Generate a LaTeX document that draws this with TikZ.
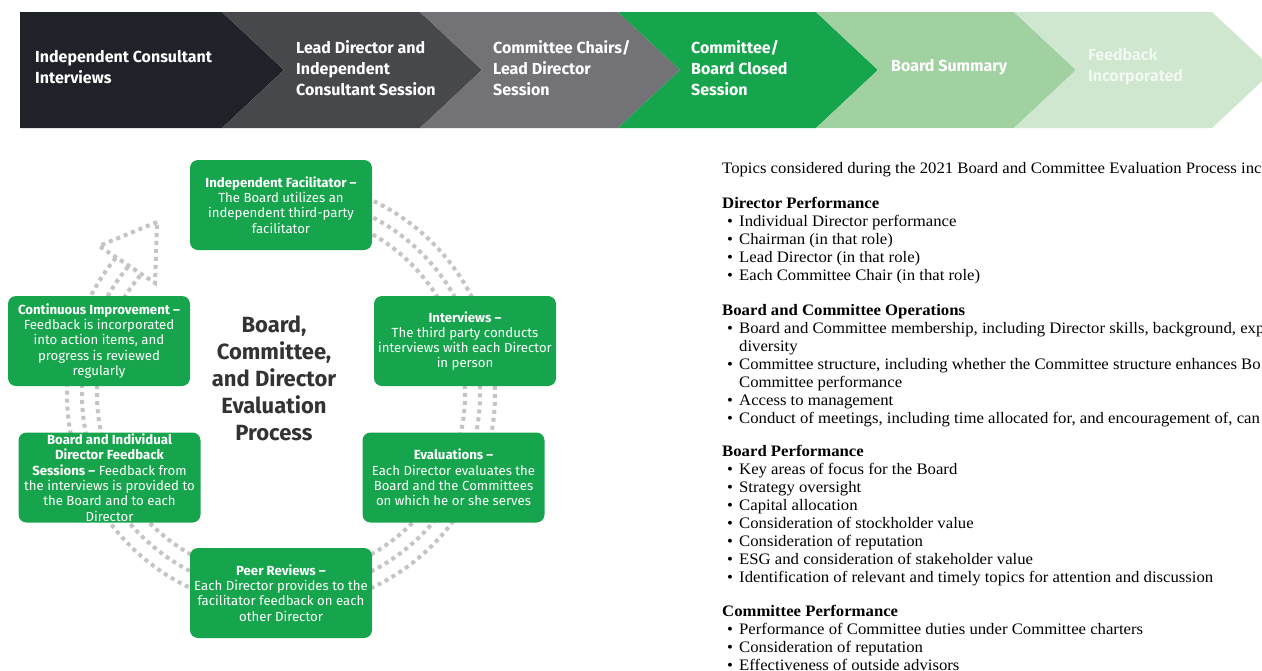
\documentclass[tikz,border=0pt]{standalone}
\usepackage{fontspec}
\setmainfont[FakeStretch=1.045]{Liberation Serif}
\newfontfamily\boxsans{Fira Sans}
\usetikzlibrary{positioning}
\definecolor{ink}{RGB}{31,35,41}
\definecolor{slate}{RGB}{71,72,76}
\definecolor{ash}{RGB}{115,115,119}
\definecolor{leaf}{RGB}{22,165,76}
\definecolor{mint}{RGB}{161,209,161}
\definecolor{pale}{RGB}{207,230,207}
\definecolor{titlegray}{RGB}{51,51,51}
\newcommand{\bul}{\makebox[12pt][l]{\textbullet}}

\begin{document}
\begin{tikzpicture}[x=1pt,y=-1pt,
 chev/.style={anchor=west,inner sep=0pt,align=left,text=white,font=\boxsans\bfseries\fontsize{16}{21}\selectfont},
 stage/.style={fill=leaf,rounded corners=8pt,minimum width=182pt,minimum height=90pt,inner sep=0pt,text=white,align=center,font=\boxsans\fontsize{13.2}{15.3}\selectfont},
 dots/.style={draw=black!23,line width=4pt,dash pattern=on 4pt off 4pt},
 head/.style={anchor=base west,inner sep=0pt,font=\bfseries\fontsize{16}{18}\selectfont},
 itm/.style={anchor=base west,inner sep=0pt,font=\fontsize{16}{18}\selectfont}]
\path[use as bounding box,clip] (0,0) rectangle (1262,670);

% process band
\fill[ink] (20,12) -- (222,12) -- (284,70) -- (222,128) -- (20,128) -- cycle;
\foreach \c [count=\i] in {slate,ash,leaf,mint,pale}
  \fill[\c] ({24+198*\i},12) -- ({222+198*\i},12) -- ({284+198*\i},70) -- ({222+198*\i},128) -- ({24+198*\i},128) -- ({86+198*\i},70) -- cycle;
\node[chev] (c1) at (35,67) {Independent Consultant\\Interviews};
\node[chev] (c2) at (296,68) {Lead Director and\\Independent\\Consultant Session};
\node[chev] (c3) at (493,68) {Committee Chairs/\\Lead Director\\Session};
\node[chev] (c4) at (691,68) {Committee/\\Board Closed\\Session};
\node[chev] (c5) at (891,67) {Board Summary};
\node[chev,text=white!70!pale] (c6) at (1088,67) {Feedback\\Incorporated};

% cycle
\coordinate (hub) at (281,394);
\foreach \r in {184,199,214}
  \draw[dots] (hub) ++(270:\r) arc[start angle=270,end angle=580,radius=\r];
\coordinate (tip) at (157,222);
\coordinate (barbl) at (99,246);
\coordinate (barbr) at (155,283);
\draw[dots] (tip) -- (barbl) -- (barbr) -- cycle;

\node[stage] (fac) at (281,205) {\textbf{Independent Facilitator –}\\The Board utilizes an\\independent third-party\\facilitator};
\node[stage] (intv) at (465,341) {\textbf{Interviews –}\\The third party conducts\\interviews with each Director\\in person};
\node[stage] (eval) at (453.5,477.5) {\textbf{Evaluations –}\\Each Director evaluates the\\Board and the Committees\\on which he or she serves};
\node[stage] (peer) at (281,593) {\textbf{Peer Reviews –}\\Each Director provides to the\\facilitator feedback on each\\other Director};
\node[stage] (sess) at (109.5,477.5) {\textbf{Board and Individual}\\\textbf{Director Feedback}\\\textbf{Sessions –} Feedback from\\the interviews is provided to\\the Board and to each\\Director};
\node[stage] (cont) at (99,341) {\textbf{Continuous Improvement –}\\Feedback is incorporated\\into action items, and\\progress is reviewed\\regularly};
\node[align=center,text=titlegray,font=\boxsans\bfseries\fontsize{22}{27}\selectfont] (title) at (274,378) {Board,\\Committee,\\and Director\\Evaluation\\Process};

% topics
\node[itm] (intro) at (722,173) {Topics considered during the 2021 Board and Committee Evaluation Process inc};
\node[head] (dirh) at (722,208) {Director Performance};
\foreach \t [count=\i] in {Individual Director performance,Chairman (in that role),Lead Director (in that role),Each Committee Chair (in that role)}
  \node[itm] (dir\i) at (727,{208+18*\i}) {\bul\t};
\node[head] (opsh) at (722,315) {Board and Committee Operations};
\foreach \t [count=\i] in {{\bul Board and Committee membership, including Director skills, background, exp},{\hspace*{12pt}diversity},{\bul Committee structure, including whether the Committee structure enhances Bo},{\hspace*{12pt}Committee performance},{\bul Access to management},{\bul Conduct of meetings, including time allocated for, and encouragement of, can}}
  \node[itm] (ops\i) at (727,{315+18*\i}) {\t};
\node[head] (brdh) at (722,456) {Board Performance};
\foreach \t [count=\i] in {Key areas of focus for the Board,Strategy oversight,Capital allocation,Consideration of stockholder value,Consideration of reputation,ESG and consideration of stakeholder value,Identification of relevant and timely topics for attention and discussion}
  \node[itm] (brd\i) at (727,{456+18*\i}) {\bul\t};
\node[head] (comh) at (722,616) {Committee Performance};
\foreach \t [count=\i] in {Performance of Committee duties under Committee charters,Consideration of reputation,Effectiveness of outside advisors}
  \node[itm] (com\i) at (727,{616+18*\i}) {\bul\t};
\end{tikzpicture}
\end{document}
